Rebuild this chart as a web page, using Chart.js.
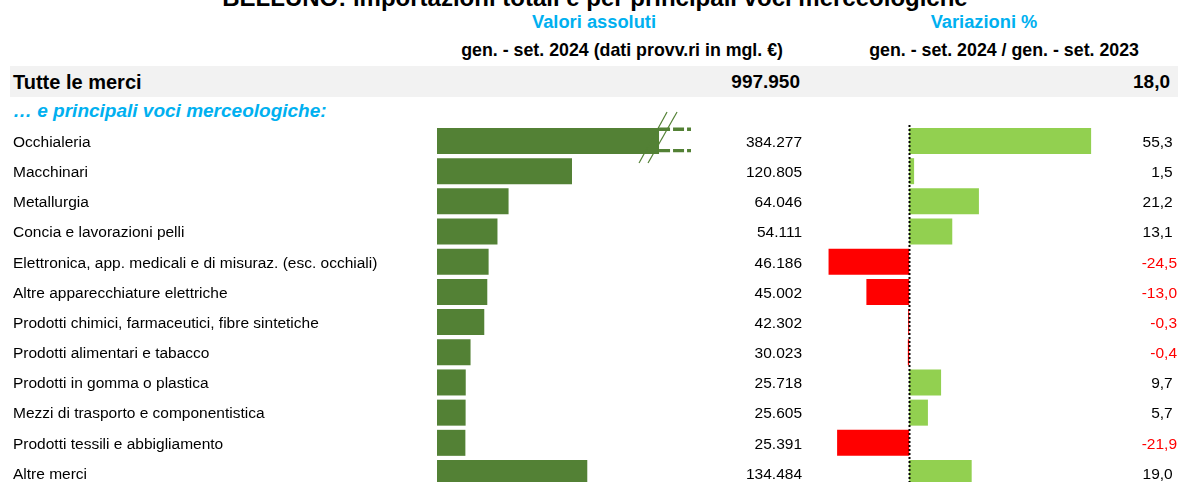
<!DOCTYPE html>
<html><head><meta charset="utf-8">
<script src="https://cdn.jsdelivr.net/npm/chart.js@4.4.1/dist/chart.umd.min.js"></script>
<style>
html,body{margin:0;padding:0;width:1178px;height:482px;overflow:hidden;background:#fff;font-family:"Liberation Sans",Arial,sans-serif;}
.t{position:absolute;white-space:nowrap;}
#band{position:absolute;left:10px;top:66px;width:1168px;height:31px;background:#F2F2F2;}
canvas{position:absolute;top:0;}
</style></head>
<body>
<div id="band"></div>
<div class="t" id="title" style="left:6px;width:1178px;text-align:center;top:-14px;font-size:24px;line-height:24px;font-weight:bold;color:#000;"></div>
<div class="t" id="h1" style="left:394px;width:400px;text-align:center;top:12px;height:20px;line-height:20px;font-size:18.3px;font-weight:bold;color:#00B0F0;"></div>
<div class="t" id="h2" style="left:784px;width:400px;text-align:center;top:12px;height:20px;line-height:20px;font-size:18.3px;font-weight:bold;color:#00B0F0;"></div>
<div class="t" id="s1" style="left:283px;width:500px;text-align:right;top:40px;height:20px;line-height:20px;font-size:17.8px;font-weight:bold;color:#000;"></div>
<div class="t" id="s2" style="left:639px;width:500px;text-align:right;top:40px;height:20px;line-height:20px;font-size:17.8px;font-weight:bold;color:#000;"></div>
<div class="t" id="totL" style="left:13px;top:71px;height:22px;line-height:22px;font-size:20px;font-weight:bold;color:#000;"></div>
<div class="t" id="totV" style="left:500px;width:300px;text-align:right;top:71px;height:22px;line-height:22px;font-size:19px;font-weight:bold;color:#000;"></div>
<div class="t" id="totC" style="left:870px;width:300px;text-align:right;top:71px;height:22px;line-height:22px;font-size:19px;font-weight:bold;color:#000;"></div>
<div class="t" id="sub" style="left:13px;top:100px;height:22px;line-height:22px;font-size:19px;font-weight:bold;font-style:italic;color:#00B0F0;"></div>
<canvas id="cL" width="810" height="490" style="left:0px;"></canvas>
<canvas id="cR" width="368" height="490" style="left:810px;"></canvas>
<script>
// ---- data ----
const titleText = "BELLUNO: importazioni totali e per principali voci merceologiche";
const headAbs = "Valori assoluti";
const headVar = "Variazioni %";
const subAbs = "gen. - set. 2024 (dati provv.ri in mgl. €)";
const subVar = "gen. - set. 2024 / gen. - set. 2023";
const totaleLabel = "Tutte le merci";
const totaleValore = 997950;
const totaleVariazione = 18.0;
const sottoTitolo = "… e principali voci merceologiche:";
const categories = [
  "Occhialeria",
  "Macchinari",
  "Metallurgia",
  "Concia e lavorazioni pelli",
  "Elettronica, app. medicali e di misuraz. (esc. occhiali)",
  "Altre apparecchiature elettriche",
  "Prodotti chimici, farmaceutici, fibre sintetiche",
  "Prodotti alimentari e tabacco",
  "Prodotti in gomma o plastica",
  "Mezzi di trasporto e componentistica",
  "Prodotti tessili e abbigliamento",
  "Altre merci"
];
const valoriAssoluti = [384277, 120805, 64046, 54111, 46186, 45002, 42302, 30023, 25718, 25605, 25391, 134484];
const variazioni = [55.3, 1.5, 21.2, 13.1, -24.5, -13.0, -0.3, -0.4, 9.7, 5.7, -21.9, 19.0];

// ---- formatting ----
function fmtInt(v){ return String(Math.round(v)).replace(/\B(?=(\d{3})+(?!\d))/g, '.'); }
function fmtDec(v){ return v.toFixed(1).replace('.', ','); }

document.getElementById('title').textContent = titleText;
document.getElementById('h1').textContent = headAbs;
document.getElementById('h2').textContent = headVar;
document.getElementById('s1').textContent = subAbs;
document.getElementById('s2').textContent = subVar;
document.getElementById('totL').textContent = totaleLabel;
document.getElementById('totV').textContent = fmtInt(totaleValore);
document.getElementById('totC').textContent = fmtDec(totaleVariazione);
document.getElementById('sub').textContent = sottoTitolo;

Chart.defaults.font.family = "'Liberation Sans', Arial, sans-serif";
const FONT = "15.5px 'Liberation Sans', Arial, sans-serif";
const GREEN_DARK = '#538135', GREEN_LIGHT = '#92D050', RED = '#FF0000';
const AREA_TOP = 125.9, AREA_H = 362.2, CH = 490;

// left chart scale & break
const X_MAX_L = 227300;
const BREAK_AT = 198700;

const breakPlugin = {
  id: 'brk',
  afterDatasetsDraw(chart){
    const xs = chart.scales.x, meta = chart.getDatasetMeta(0), ctx = chart.ctx;
    meta.data.forEach((el, i) => {
      if (valoriAssoluti[i] <= xs.max) return;
      const xb = xs.getPixelForValue(BREAK_AT), xr = chart.chartArea.right;
      const top = el.y - el.height/2, bot = el.y + el.height/2;
      ctx.save();
      ctx.fillStyle = '#fff';
      ctx.fillRect(xb, top - 1, xr - xb + 2, bot - top + 2);
      ctx.strokeStyle = GREEN_DARK;
      ctx.lineWidth = 3.4;
      ctx.setLineDash([11, 3]);
      ctx.beginPath();
      ctx.moveTo(xb, top + 1.2); ctx.lineTo(xr, top + 1.2);
      ctx.moveTo(xb, bot - 3.4); ctx.lineTo(xr, bot - 3.4);
      ctx.stroke();
      ctx.setLineDash([]);
      ctx.lineWidth = 1.2;
      [[-20, 8], [-11, 18]].forEach(([a, b]) => {
        ctx.beginPath();
        ctx.moveTo(xb + a, el.y + 22);
        ctx.lineTo(xb + b, el.y - 29);
        ctx.stroke();
      });
      ctx.restore();
    });
  }
};

const labelsL = {
  id: 'lblL',
  afterDraw(chart){
    const ctx = chart.ctx, meta = chart.getDatasetMeta(0), ys = chart.scales.y;
    ctx.save();
    ctx.font = FONT; ctx.fillStyle = '#000';
    ctx.textBaseline = 'middle';
    meta.data.forEach((el, i) => {
      const y = ys.getPixelForValue(i) + 1.5;
      ctx.textAlign = 'left';
      ctx.fillText(categories[i], 13, y);
      ctx.textAlign = 'right';
      ctx.fillText(fmtInt(valoriAssoluti[i]), 802, y);
    });
    ctx.restore();
  }
};

new Chart(document.getElementById('cL'), {
  type: 'bar',
  data: { labels: categories, datasets: [{ data: valoriAssoluti, backgroundColor: GREEN_DARK, barPercentage: 0.862, categoryPercentage: 1 }] },
  options: {
    indexAxis: 'y', responsive: false, animation: false, events: [],
    layout: { padding: { left: 437, right: 810 - 691, top: AREA_TOP, bottom: CH - AREA_TOP - AREA_H } },
    plugins: { legend: { display: false }, tooltip: { enabled: false } },
    scales: {
      x: { display: false, min: 0, max: X_MAX_L },
      y: { display: false }
    }
  },
  plugins: [breakPlugin, labelsL]
});

// right chart
const X_MIN_R = -27.1, X_MAX_R = 58.0;
const zeroLine = {
  id: 'zero',
  afterDatasetsDraw(chart){
    const ctx = chart.ctx, x = Math.round(chart.scales.x.getPixelForValue(0)) + 0.5;
    ctx.save();
    ctx.strokeStyle = '#000'; ctx.lineWidth = 2; ctx.setLineDash([2, 2]);
    ctx.beginPath(); ctx.moveTo(x, chart.chartArea.top - 1); ctx.lineTo(x, CH); ctx.stroke();
    ctx.restore();
  }
};
const labelsR = {
  id: 'lblR',
  afterDraw(chart){
    const ctx = chart.ctx, ys = chart.scales.y;
    ctx.save();
    ctx.font = FONT; ctx.textAlign = 'right'; ctx.textBaseline = 'middle';
    variazioni.forEach((v, i) => {
      ctx.fillStyle = v < 0 ? RED : '#000';
      ctx.fillText(fmtDec(v) + (v < 0 ? '' : ' '), 367, ys.getPixelForValue(i) + 1.5);
    });
    ctx.restore();
  }
};
new Chart(document.getElementById('cR'), {
  type: 'bar',
  data: { labels: categories, datasets: [{ data: variazioni, backgroundColor: variazioni.map(v => v < 0 ? RED : GREEN_LIGHT), barPercentage: 0.862, categoryPercentage: 1 }] },
  options: {
    indexAxis: 'y', responsive: false, animation: false, events: [],
    layout: { padding: { left: 10, right: 78, top: AREA_TOP, bottom: CH - AREA_TOP - AREA_H } },
    plugins: { legend: { display: false }, tooltip: { enabled: false } },
    scales: {
      x: { display: false, min: X_MIN_R, max: X_MAX_R },
      y: { display: false }
    }
  },
  plugins: [zeroLine, labelsR]
});
</script>
</body></html>
